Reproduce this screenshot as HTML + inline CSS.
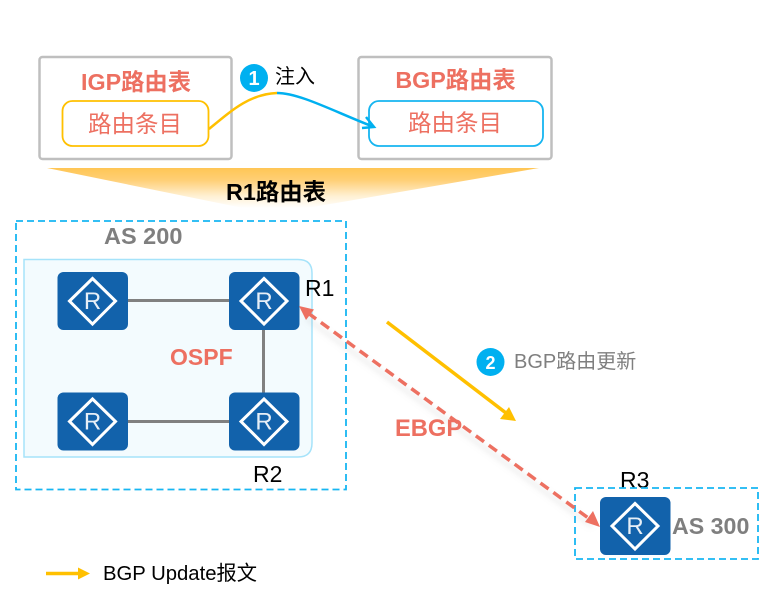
<!DOCTYPE html>
<html><head><meta charset="utf-8">
<style>
html,body{margin:0;padding:0;background:#fff;width:762px;height:591px;overflow:hidden}
svg{display:block}
text{font-family:"Liberation Sans","Noto Sans CJK SC",sans-serif}
</style></head>
<body>
<svg width="762" height="591" viewBox="0 0 762 591" xmlns="http://www.w3.org/2000/svg">
<defs>
<linearGradient id="g" x1="0" y1="0" x2="0" y2="1">
<stop offset="0" stop-color="#ffc655"/><stop offset="0.3" stop-color="#ffcf75"/><stop offset="0.7" stop-color="#fff0d2"/><stop offset="1" stop-color="#ffffff"/>
</linearGradient>
<filter id="s" x="-10%" y="-10%" width="120%" height="120%"><feGaussianBlur stdDeviation="3"/></filter>
<g id="r">
<rect x="0" y="0" width="70.500" height="58" rx="6" fill="#1262ab"/>
<path d="M35 6.500 L58 29 L35 52 L12 29 Z" fill="none" stroke="#fff" stroke-width="3"/>
<text x="35" y="37" text-anchor="middle" font-size="24" fill="#fff" fill-opacity=".9">R</text>
</g>
</defs>

<polygon points="47,168 539,168 307,208 243,208" fill="url(#g)"/>
<rect x="39.500" y="57" width="192" height="102" rx="3" fill="#fff" stroke="#bfbfbf" stroke-width="2.500"/>
<rect x="358.500" y="57" width="193" height="102" rx="3" fill="#fff" stroke="#bfbfbf" stroke-width="2.500"/>
<rect x="62.500" y="101" width="146" height="45" rx="10" fill="#fff" stroke="#ffc000" stroke-width="1.800"/>
<rect x="369" y="101" width="174" height="45" rx="10" fill="#fff" stroke="#16b5f0" stroke-width="1.800"/>

<text x="136" y="90" text-anchor="middle" font-size="23.300" font-weight="700" fill="#ed7061">IGP路由表</text>
<text x="455.500" y="88" text-anchor="middle" font-size="23.300" font-weight="700" fill="#ed7061">BGP路由表</text>
<text x="135" y="132" text-anchor="middle" font-size="23.500" fill="#ed7061">路由条目</text>
<text x="455" y="131" text-anchor="middle" font-size="23.500" fill="#ed7061">路由条目</text>
<text x="276" y="200" text-anchor="middle" font-size="23.400" font-weight="700" fill="#000">R1路由表</text>

<path d="M209 129 C232 110 250 94 277 93" fill="none" stroke="#ffc000" stroke-width="2.500"/>
<path d="M277 93 C300 93 335 112 374 127" fill="none" stroke="#00b0f0" stroke-width="2.500"/>
<path d="M366 117 L374 127 L362 128" fill="none" stroke="#00b0f0" stroke-width="2.500"/>
<circle cx="254" cy="78" r="14" fill="#00b0f0"/>
<text x="254" y="85" text-anchor="middle" font-size="20" font-weight="700" fill="#fff">1</text>
<text x="275" y="83" font-size="20" fill="#000">注入</text>

<rect x="16" y="221" width="330" height="268.500" fill="none" stroke="#17b6f2" stroke-width="1.800" stroke-dasharray="7 4"/>
<text x="104" y="244" font-size="23.500" font-weight="700" fill="#7f7f7f">AS 200</text>
<path d="M24 259.500 H298 Q312 259.500 312 273 V443 Q312 457 298 457 H24 Z" fill="#f3fbfe" stroke="#a6e3fa" stroke-width="1.500"/>

<path d="M128 300.500 H229 M128 421.500 H229 M263.500 330 V393" stroke="#808080" stroke-width="3" fill="none"/>
<use href="#r" x="57.500" y="272"/>
<use href="#r" x="229" y="272"/>
<use href="#r" x="57.500" y="392.500"/>
<use href="#r" x="229" y="392.500"/>
<use href="#r" x="600" y="497"/>

<text x="170" y="365" font-size="23" font-weight="700" fill="#ed7061">OSPF</text>
<text x="305" y="296" font-size="23" fill="#000">R1</text>
<text x="253" y="482" font-size="23" fill="#000">R2</text>
<text x="620" y="488" font-size="23" fill="#000">R3</text>

<rect x="575" y="488" width="183" height="71" fill="none" stroke="#17b6f2" stroke-width="1.800" stroke-dasharray="7 4"/>
<text x="672" y="534" font-size="23.200" font-weight="700" fill="#7f7f7f">AS 300</text>

<path d="M306 318 L592 526" stroke="#999" stroke-opacity=".18" stroke-width="4" filter="url(#s)" fill="none"/>
<path d="M308 313 L591 520" stroke="#ed7061" stroke-width="3.500" stroke-dasharray="10 6" fill="none"/>
<polygon points="299,306 314,309.500 306,320" fill="#ed7061"/>
<polygon points="600,527 585,522 593,511" fill="#ed7061"/>
<text x="395" y="436" font-size="23.700" font-weight="700" fill="#ed7061">EBGP</text>

<path d="M387 322 L506 413" stroke="#ffc000" stroke-width="3.500" fill="none"/>
<polygon points="516,421 500,419 509,407" fill="#ffc000"/>
<circle cx="490.500" cy="362" r="14" fill="#00b0f0"/>
<text x="490.500" y="369" text-anchor="middle" font-size="18" font-weight="700" fill="#fff">2</text>
<text x="514" y="368" font-size="20" fill="#7f7f7f">BGP路由更新</text>

<path d="M46 573.500 H80" stroke="#ffc000" stroke-width="3.500" fill="none"/>
<polygon points="90,573.500 78,567.500 78,579.500" fill="#ffc000"/>
<text x="103" y="580" font-size="20.300" fill="#000">BGP Update报文</text>
</svg>
</body></html>
